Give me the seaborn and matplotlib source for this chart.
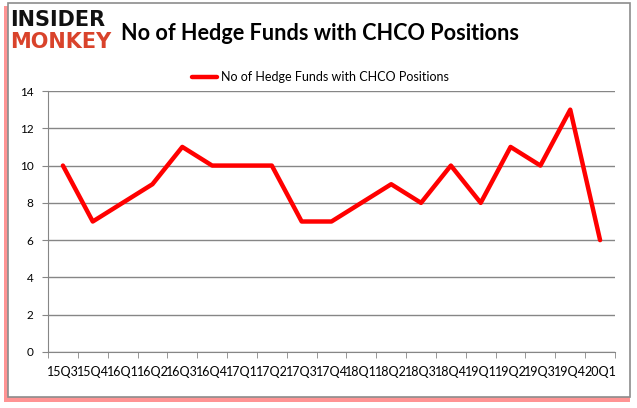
import pandas as pd
import seaborn as sns
import matplotlib.pyplot as plt
from matplotlib.patches import Rectangle

# データ
quarters = ['15Q3', '15Q4', '16Q1', '16Q2', '16Q3', '16Q4', '17Q1', '17Q2', '17Q3', '17Q4',
            '18Q1', '18Q2', '18Q3', '18Q4', '19Q1', '19Q2', '19Q3', '19Q4', '20Q1']
hedge_funds = [10, 7, 8, 9, 11, 10, 10, 10, 7, 7, 8, 9, 8, 10, 8, 11, 10, 13, 6]
series_name = 'No of Hedge Funds with CHCO Positions'

data = pd.DataFrame({'pos': range(len(quarters)), 'quarter': quarters, 'funds': hedge_funds})

sns.set_style('white')
plt.rcParams['font.family'] = ['Lato', 'DejaVu Sans']
plt.rcParams['text.color'] = 'black'
plt.rcParams['xtick.color'] = 'black'
plt.rcParams['ytick.color'] = 'black'

fig = plt.figure(figsize=(6.37, 4.08), dpi=100)
ax = fig.add_axes([48 / 637, 1 - 352 / 408, (615 - 48) / 637, (352 - 91) / 408])

# 枠と影
fig.patches.append(Rectangle((4 / 637, 1 - 402 / 408), 626 / 637, 396 / 408,
                             transform=fig.transFigure, facecolor='#ff2a2a', edgecolor='none', alpha=0.5, zorder=-2))
fig.patches.append(Rectangle((8 / 637, 1 - 397 / 408), 622 / 637, 394 / 408,
                             transform=fig.transFigure, facecolor='white', edgecolor='#8c8c8c', linewidth=1.2, zorder=-1))

sns.lineplot(data=data, x='pos', y='funds', color='#ff0000', linewidth=3.2, sort=False,
             label=series_name, ax=ax)

ax.set_xlim(-0.5, len(quarters) - 0.5)
ax.set_ylim(0, 14)
ax.set_yticks(range(0, 15, 2))
ax.set_xticks(range(len(quarters)))
ax.set_xticklabels(quarters, fontsize=9)
ax.set_xticks([i - 0.5 for i in range(len(quarters) + 1)], minor=True)
ax.tick_params(axis='x', which='major', length=0, pad=10)
ax.tick_params(axis='x', which='minor', length=4, color='#868686', direction='out', bottom=True)
ax.tick_params(axis='y', length=4.5, color='#868686', labelcolor='black', direction='out', left=True,
               labelsize=8.5, pad=6)
ax.yaxis.grid(True, color='#868686', linewidth=1)
ax.set_axisbelow(True)
ax.set_xlabel('')
ax.set_ylabel('')
for side in ['top', 'right']:
    ax.spines[side].set_visible(False)
ax.spines['left'].set_color('#868686')
ax.spines['bottom'].set_color('#868686')

ax.legend(loc='center', bbox_to_anchor=(0.48, 1.054), frameon=False, fontsize=9,
          handlelength=2.0, handletextpad=0.3)

# タイトルとロゴ
fig.text(121 / 637, 1 - 33 / 408, series_name, fontsize=15.6, fontweight='bold', color='black',
         va='center', ha='left')
fig.text(10 / 637, 1 - 20 / 408, 'INSIDER', fontsize=15, fontweight='heavy', color='#111111',
         va='center', ha='left', family='DejaVu Sans')
fig.text(10 / 637, 1 - 42 / 408, 'MONKEY', fontsize=15, fontweight='heavy', color='#d9432b',
         va='center', ha='left', family='DejaVu Sans')

plt.savefig('out.png', dpi=100)
